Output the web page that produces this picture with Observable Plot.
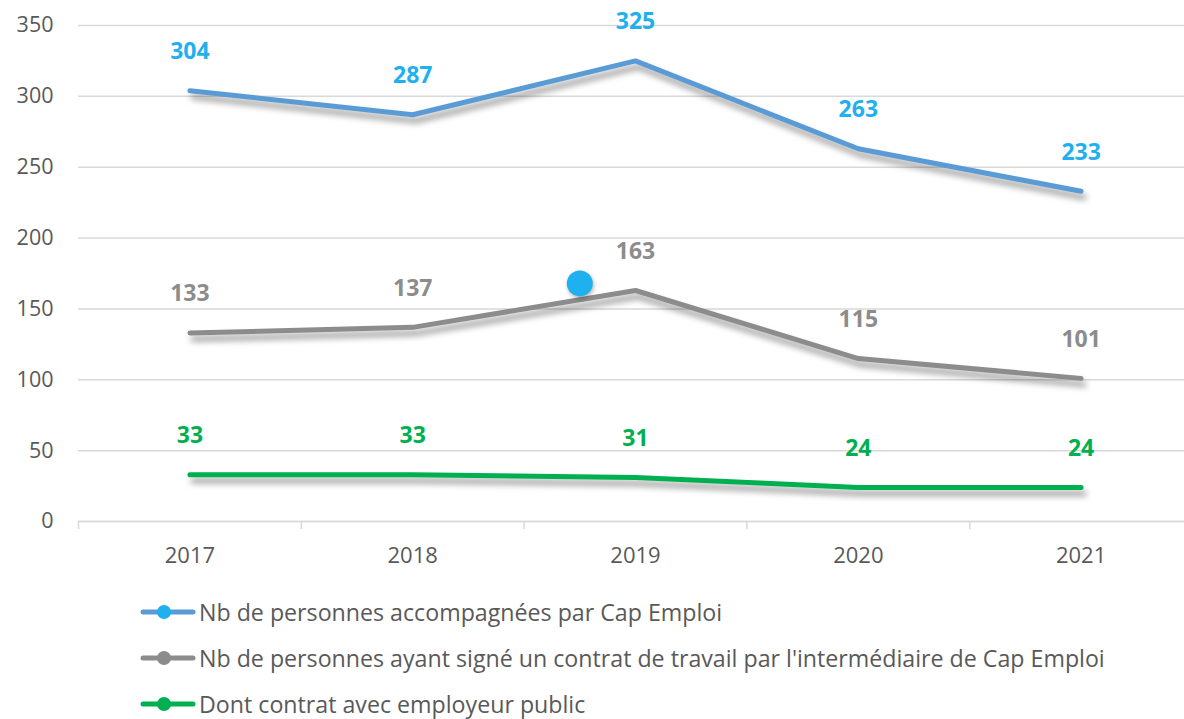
<!DOCTYPE html>
<html><head><meta charset="utf-8">
<script src="https://cdn.jsdelivr.net/npm/d3@7"></script>
<script src="https://cdn.jsdelivr.net/npm/@observablehq/plot@0.6"></script>
<style>
html,body{margin:0;padding:0;background:#fff;}
body{width:1184px;height:719px;overflow:hidden;font-family:"Open Sans","Noto Sans",sans-serif;}
#legend{position:absolute;left:140px;top:589px;}
.item{display:flex;align-items:center;height:46px;font-size:23.2px;line-height:28px;color:#595959;white-space:nowrap;}
.item svg{margin-right:3px;}
</style></head>
<body>
<div id="chart"></div>
<div id="legend"></div>
<script>
const years = [2017, 2018, 2019, 2020, 2021];
const accompagnees = [304, 287, 325, 263, 233];
const contrats = [133, 137, 163, 115, 101];
const publics = [33, 33, 31, 24, 24];
const seriesNames = [
  "Nb de personnes accompagnées par Cap Emploi",
  "Nb de personnes ayant signé un contrat de travail par l'intermédiaire de Cap Emploi",
  "Dont contrat avec employeur public"
];
const lineColors = ["#5b9bd5", "#8c8c8c", "#00b050"];
const labelColors = ["#1fb0f0", "#8c8c8c", "#00b050"];
const yTicks = [0, 50, 100, 150, 200, 250, 300, 350];
const bandEdges = [2016.5, 2017.5, 2018.5, 2019.5, 2020.5];
// stray marker visible in the original picture
const strayMarker = [{year: 2018.75, value: 168}];

const seriesValues = [accompagnees, contrats, publics];
const rows = seriesValues.flatMap((vals, i) => years.map((y, j) => ({year: y, value: vals[j], series: i})));

const shadow = "drop-shadow(3px 6px 3px rgba(0,0,0,0.4))";
const marks = [
  Plot.gridY(yTicks, {stroke: "#d9d9d9", strokeOpacity: 1, strokeWidth: 1.5}),
  Plot.ruleY([0], {stroke: "#d9d9d9", strokeWidth: 1.5}),
  Plot.axisY(yTicks, {tickSize: 0, tickPadding: 25, fontSize: 21.5, fill: "#595959", label: null}),
  Plot.axisX(years, {tickSize: 0, tickPadding: 26, fontSize: 22, fill: "#595959", tickFormat: d => String(d), label: null}),
  Plot.axisX(bandEdges, {tickSize: 8, tickFormat: () => "", stroke: "#d9d9d9", strokeWidth: 1.5, label: null}),
];
seriesValues.forEach((vals, i) => {
  const d = rows.filter(r => r.series === i);
  marks.push(Plot.line(d, {x: "year", y: "value", stroke: lineColors[i], strokeWidth: 5, strokeLinecap: "round", imageFilter: shadow}));
  marks.push(Plot.text(d, {x: "year", y: "value", text: "value", dy: -39, fill: labelColors[i], fontSize: 23, fontWeight: "bold"}));
});
marks.push(Plot.dot(strayMarker, {x: "year", y: "value", r: 13, fill: "#1fb0f0", imageFilter: "drop-shadow(1px 2px 2px rgba(0,0,0,0.3))"}));

const chart = Plot.plot({
  width: 1184,
  height: 585,
  marginLeft: 78,
  marginRight: 0,
  marginTop: 25,
  marginBottom: 64,
  style: {fontFamily: "'Open Sans','Noto Sans',sans-serif", background: "#fff", overflow: "visible"},
  x: {domain: [2016.5, 2021.5], range: [78, 1192], axis: null},
  y: {domain: [0, 350], axis: null},
  marks
});
document.getElementById("chart").appendChild(chart);

const legend = document.getElementById("legend");
seriesNames.forEach((name, i) => {
  const div = document.createElement("div");
  div.className = "item";
  div.innerHTML = `<svg width="56" height="16"><line x1="3" y1="8" x2="53" y2="8" stroke="${lineColors[i]}" stroke-width="5" stroke-linecap="round"/><circle cx="24" cy="8" r="7" fill="${labelColors[i]}"/></svg><span>${name}</span>`;
  legend.appendChild(div);
});
</script>
</body></html>
